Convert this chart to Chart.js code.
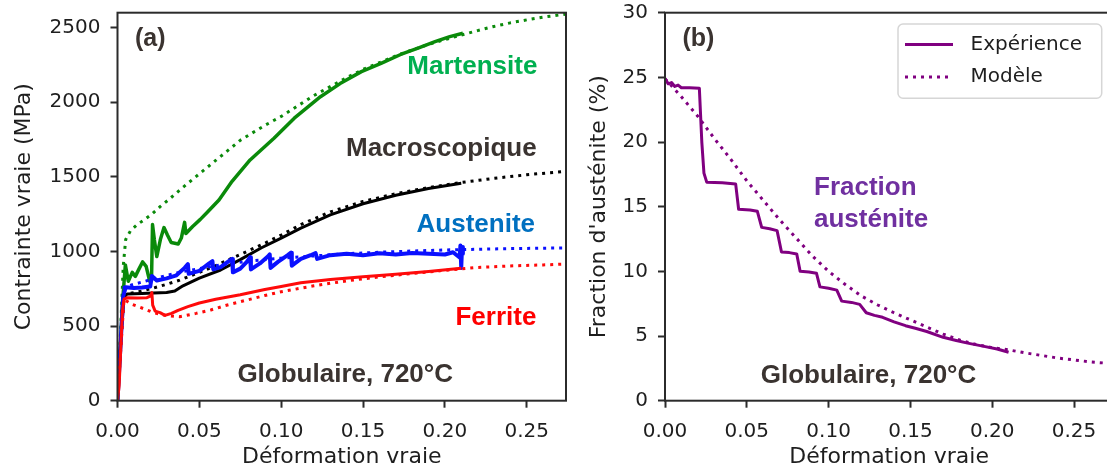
<!DOCTYPE html>
<html>
<head>
<meta charset="utf-8">
<script src="https://cdn.jsdelivr.net/npm/chart.js@4.4.1/dist/chart.umd.min.js"></script>
<style>
  html, body { margin: 0; padding: 0; background: #fff; overflow: hidden; }
  #wrap { position: relative; width: 1107px; height: 470px; overflow: hidden; background: #fff; }
  #left { position: absolute; left: 0; top: 0; }
  #right { position: absolute; left: 575px; top: 0; }
</style>
</head>
<body>
<div id="wrap">
  <canvas id="left" width="575" height="470"></canvas>
  <canvas id="right" width="545" height="470"></canvas>
</div>
<script>
// ---------- (a) true stress vs true strain per phase ----------
const martExpStrain = [0, 0.0015, 0.003, 0.0039, 0.0048, 0.0066, 0.009, 0.0109, 0.013, 0.0153, 0.0175, 0.0197, 0.0208, 0.0214, 0.0225, 0.024, 0.0262, 0.0284, 0.0305, 0.0328, 0.0371, 0.039, 0.041, 0.0418, 0.0459, 0.0506, 0.055, 0.062, 0.07, 0.081, 0.0956, 0.108, 0.124, 0.136, 0.149, 0.161, 0.173, 0.184, 0.194, 0.203, 0.211];
const martExpStress = [0, 300, 650, 780, 910, 800, 860, 833, 880, 930, 900, 800, 820, 1180, 1080, 966, 1080, 1160, 1110, 1060, 1050, 1090, 1195, 1120, 1167, 1215, 1265, 1345, 1470, 1613, 1759, 1893, 2037, 2125, 2205, 2260, 2320, 2365, 2406, 2440, 2462];
const martModStrain = [0, 0.002, 0.0035, 0.005, 0.008, 0.012, 0.016, 0.021, 0.026, 0.031, 0.04, 0.05, 0.06, 0.075, 0.09, 0.10, 0.11, 0.12, 0.13, 0.14, 0.15, 0.16, 0.17, 0.18, 0.19, 0.20, 0.21, 0.22, 0.23, 0.24, 0.25, 0.26, 0.275];
const martModStress = [0, 500, 900, 1080, 1140, 1180, 1210, 1250, 1300, 1345, 1430, 1520, 1610, 1745, 1845, 1905, 1975, 2045, 2105, 2165, 2220, 2265, 2310, 2350, 2388, 2420, 2450, 2480, 2508, 2532, 2552, 2570, 2592];

const macroExpStrain = [0, 0.002, 0.004, 0.006, 0.015, 0.022, 0.03, 0.035, 0.04, 0.05, 0.063, 0.075, 0.088, 0.10, 0.112, 0.13, 0.15, 0.17, 0.19, 0.21];
const macroExpStress = [0, 400, 700, 715, 718, 722, 725, 735, 770, 822, 876, 945, 1025, 1090, 1157, 1245, 1320, 1377, 1422, 1457];
const macroModStrain = [0, 0.002, 0.004, 0.008, 0.015, 0.022, 0.03, 0.038, 0.05, 0.06, 0.07, 0.08, 0.09, 0.10, 0.112, 0.13, 0.15, 0.17, 0.19, 0.21, 0.23, 0.25, 0.275];
const macroModStress = [0, 400, 700, 720, 735, 755, 780, 808, 860, 905, 955, 1005, 1055, 1110, 1180, 1265, 1335, 1387, 1428, 1462, 1490, 1514, 1538];

const austExpStrain = [0, 0.002, 0.0035, 0.005, 0.01, 0.015, 0.02, 0.021, 0.024, 0.03, 0.036, 0.041, 0.043, 0.0435, 0.05, 0.056, 0.058, 0.0585, 0.063, 0.068, 0.070, 0.0705, 0.075, 0.079, 0.081, 0.0815, 0.087, 0.092, 0.093, 0.0935, 0.098, 0.104, 0.106, 0.1065, 0.112, 0.118, 0.121, 0.122, 0.13, 0.14, 0.15, 0.16, 0.17, 0.18, 0.19, 0.20, 0.205, 0.209, 0.2095, 0.2100, 0.2105, 0.211];
const austExpStress = [0, 400, 700, 760, 755, 758, 765, 835, 805, 820, 840, 890, 915, 850, 870, 920, 935, 880, 895, 935, 950, 860, 885, 930, 962, 880, 920, 968, 980, 890, 930, 975, 992, 905, 950, 975, 990, 950, 975, 985, 975, 988, 980, 990, 985, 980, 995, 960, 1040, 890, 1030, 985];
const austModStrain = [0, 0.002, 0.004, 0.01, 0.02, 0.03, 0.04, 0.05, 0.06, 0.08, 0.10, 0.12, 0.14, 0.16, 0.18, 0.20, 0.22, 0.24, 0.26, 0.275];
const austModStress = [0, 400, 760, 780, 810, 840, 865, 885, 905, 935, 955, 970, 985, 995, 1003, 1010, 1015, 1019, 1022, 1024];

const ferrExpStrain = [0, 0.001, 0.002, 0.003, 0.004, 0.006, 0.012, 0.018, 0.020, 0.021, 0.0215, 0.023, 0.026, 0.029, 0.033, 0.037, 0.043, 0.05, 0.06, 0.075, 0.09, 0.10, 0.112, 0.13, 0.15, 0.17, 0.19, 0.21];
const ferrExpStress = [0, 100, 350, 600, 680, 690, 688, 690, 700, 725, 640, 600, 590, 572, 585, 605, 630, 655, 680, 710, 745, 765, 790, 812, 830, 848, 866, 888];
const ferrModStrain = [0, 0.002, 0.004, 0.008, 0.014, 0.022, 0.03, 0.038, 0.048, 0.057, 0.066, 0.075, 0.09, 0.10, 0.12, 0.14, 0.16, 0.18, 0.20, 0.22, 0.24, 0.26, 0.275];
const ferrModStress = [0, 350, 680, 650, 625, 590, 570, 563, 585, 608, 638, 663, 705, 730, 770, 803, 830, 852, 874, 893, 903, 910, 916];

// ---------- (b) austenite fraction vs true strain ----------
const fracExpStrain = [0, 0.002, 0.004, 0.006, 0.008, 0.010, 0.015, 0.021, 0.0225, 0.0238, 0.0255, 0.035, 0.0432, 0.045, 0.052, 0.0564, 0.0591, 0.064, 0.0685, 0.0712, 0.076, 0.0805, 0.0826, 0.088, 0.0926, 0.0947, 0.10, 0.105, 0.108, 0.114, 0.119, 0.123, 0.128, 0.133, 0.14, 0.147, 0.153, 0.16, 0.17, 0.178, 0.185, 0.195, 0.203, 0.21];
const fracExpValue = [24.9, 24.5, 24.6, 24.3, 24.4, 24.2, 24.2, 24.15, 20.0, 17.6, 16.9, 16.85, 16.75, 14.8, 14.75, 14.65, 13.4, 13.3, 13.15, 11.5, 11.45, 11.35, 10.0, 9.95, 9.85, 8.8, 8.7, 8.55, 7.7, 7.6, 7.45, 6.8, 6.6, 6.45, 6.1, 5.8, 5.6, 5.35, 4.9, 4.65, 4.45, 4.2, 4.0, 3.75];
const fracModStrain = [0, 0.01, 0.02, 0.03, 0.04, 0.05, 0.06, 0.07, 0.08, 0.09, 0.10, 0.11, 0.12, 0.13, 0.14, 0.15, 0.16, 0.17, 0.18, 0.19, 0.20, 0.21, 0.22, 0.23, 0.24, 0.25, 0.26, 0.275];
const fracModValue = [24.9, 23.5, 22.0, 20.3, 18.7, 17.0, 15.5, 14.0, 12.6, 11.2, 10.0, 9.0, 8.1, 7.4, 6.8, 6.25, 5.7, 5.15, 4.7, 4.35, 4.1, 3.93, 3.7, 3.5, 3.3, 3.15, 3.0, 2.85];

// ---------- axis ticks ----------
const strainTicks = [0, 0.05, 0.10, 0.15, 0.20, 0.25];
const stressTicks = [0, 500, 1000, 1500, 2000, 2500];
const fractionTicks = [0, 5, 10, 15, 20, 25, 30];

// ---------- styling ----------
const INK = '#1e1e1e';
const SPINE = '#2b2b2b';
const NOTE = '#3a3330';
const X_MAX = 0.274;
const TICK_FONT = { family: 'DejaVu Sans', size: 20 };
const TITLE_FONT = { family: 'DejaVu Sans', size: 22 };
const NOTE_FONT = 'bold 26px "Liberation Sans", Arial, sans-serif';

Chart.defaults.font.family = 'DejaVu Sans';
Chart.defaults.color = INK;

const pts = (xs, ys) => xs.map((x, i) => ({ x, y: ys[i] }));

function series(label, xs, ys, color, dotted, width) {
  return {
    label,
    data: pts(xs, ys),
    borderColor: color,
    backgroundColor: color,
    borderWidth: width || 3,
    borderDash: dotted ? [3, 5] : [],
    borderCapStyle: 'butt',
    borderJoinStyle: 'round',
    pointRadius: 0,
    fill: false,
    tension: 0
  };
}

// full frame around the plotting area
const framePlugin = {
  id: 'frame',
  afterDraw(chart) {
    const { ctx, chartArea: a } = chart;
    ctx.save();
    ctx.strokeStyle = SPINE;
    ctx.lineWidth = 2;
    ctx.strokeRect(a.left, a.top, a.right - a.left, a.bottom - a.top);
    ctx.restore();
  }
};

// free text placed relative to the plotting area
const notesPlugin = {
  id: 'notes',
  afterDraw(chart, args, opts) {
    const { ctx, chartArea: a } = chart;
    ctx.save();
    ctx.textBaseline = 'alphabetic';
    for (const n of opts.items || []) {
      ctx.font = n.font || NOTE_FONT;
      ctx.fillStyle = n.color;
      ctx.textAlign = n.align || 'left';
      ctx.fillText(n.text, a.left + n.dx, a.top + n.dy);
    }
    ctx.restore();
  }
};

// boxed legend in the upper right corner
const legendBoxPlugin = {
  id: 'legendBox',
  afterDraw(chart, args, opts) {
    if (!opts.show) return;
    const { ctx, chartArea: a } = chart;
    const x = a.right - opts.right - opts.width;
    const y = a.top + opts.top;
    ctx.save();
    ctx.beginPath();
    ctx.roundRect(x, y, opts.width, opts.height, 5);
    ctx.fillStyle = 'rgba(255,255,255,0.85)';
    ctx.fill();
    ctx.strokeStyle = '#d6d6d6';
    ctx.lineWidth = 1.5;
    ctx.stroke();
    chart.data.datasets.forEach((ds, i) => {
      const cy = y + opts.firstRow + i * opts.rowGap;
      ctx.strokeStyle = ds.borderColor;
      ctx.lineWidth = ds.borderWidth;
      ctx.lineCap = 'butt';
      ctx.setLineDash(ds.borderDash || []);
      ctx.beginPath();
      ctx.moveTo(x + 7, cy);
      ctx.lineTo(x + 55, cy);
      ctx.stroke();
      ctx.setLineDash([]);
      ctx.fillStyle = INK;
      ctx.font = '20px "DejaVu Sans"';
      ctx.textAlign = 'left';
      ctx.textBaseline = 'middle';
      ctx.fillText(ds.label, x + 72.5, cy);
    });
    ctx.restore();
  }
};

function noPad(s) {
  s.paddingTop = 0; s.paddingBottom = 0; s.paddingLeft = 0; s.paddingRight = 0;
}

function scales(yMax, yTicks, yTitle, yWidth) {
  return {
    x: {
      type: 'linear',
      min: 0,
      max: X_MAX,
      afterBuildTicks: s => { s.ticks = strainTicks.map(v => ({ value: v })); },
      ticks: { font: TICK_FONT, color: INK, padding: 12.5, maxRotation: 0, autoSkip: false,
               callback: v => Number(v).toFixed(2) },
      grid: { drawOnChartArea: false, drawTicks: true, tickLength: 7, tickWidth: 2, tickColor: SPINE },
      border: { display: false },
      title: { display: true, text: 'Déformation vraie', font: TITLE_FONT, color: INK, padding: { top: 0, bottom: 0 } },
      afterFit: s => { s.height = 69.3; noPad(s); }
    },
    y: {
      type: 'linear',
      min: 0,
      max: yMax,
      afterBuildTicks: s => { s.ticks = yTicks.map(v => ({ value: v })); },
      ticks: { font: TICK_FONT, color: INK, padding: 10, autoSkip: false, callback: v => String(v) },
      grid: { drawOnChartArea: false, drawTicks: true, tickLength: 7, tickWidth: 2, tickColor: SPINE },
      border: { display: false },
      title: { display: true, text: yTitle, font: TITLE_FONT, color: INK, padding: { top: 10.8, bottom: 0 } },
      afterFit: s => { s.width = yWidth; noPad(s); }
    }
  };
}

function baseOptions(padRight, sc, notes, legend) {
  return {
    responsive: false,
    animation: false,
    devicePixelRatio: 1,
    layout: { padding: { top: 12.7, right: padRight, bottom: 0, left: 0 } },
    scales: sc,
    plugins: {
      legend: { display: false },
      tooltip: { enabled: false },
      notes: { items: notes },
      legendBox: legend || { show: false }
    }
  };
}

// panel (a)
const leftSets = [
  series('Martensite exp', martExpStrain, martExpStress, '#0a8a0a', false, 3.5),
  series('Martensite mod', martModStrain, martModStress, '#0a8a0a', true, 3),
  series('Macroscopique exp', macroExpStrain, macroExpStress, '#000000', false, 3),
  series('Macroscopique mod', macroModStrain, macroModStress, '#000000', true, 3),
  series('Austenite exp', austExpStrain, austExpStress, '#0a10ff', false, 4),
  series('Austenite mod', austModStrain, austModStress, '#0a10ff', true, 3),
  series('Ferrite exp', ferrExpStrain, ferrExpStress, '#ff0a0a', false, 3),
  series('Ferrite mod', ferrModStrain, ferrModStress, '#ff0a0a', true, 3)
];
leftSets.forEach((d, i) => { d.order = leftSets.length - i; });

new Chart(document.getElementById('left'), {
  type: 'line',
  data: { datasets: leftSets },
  options: baseOptions(9, scales(2600, stressTicks, 'Contrainte vraie (MPa)', 117.5), [
    { text: '(a)', color: NOTE, dx: 17.5, dy: 33.3, font: 'bold 25px "Liberation Sans", Arial, sans-serif' },
    { text: 'Martensite', color: '#00b050', dx: 419.9, dy: 61.3, align: 'right' },
    { text: 'Macroscopique', color: NOTE, dx: 419.2, dy: 143.3, align: 'right' },
    { text: 'Austenite', color: '#0070c0', dx: 417.5, dy: 219, align: 'right' },
    { text: 'Ferrite', color: '#ff0000', dx: 418.9, dy: 312.1, align: 'right' },
    { text: 'Globulaire, 720°C', color: NOTE, dx: 119.9, dy: 369.7 }
  ]),
  plugins: [framePlugin, notesPlugin, legendBoxPlugin]
});

// panel (b)
const rightSets = [
  series('Expérience', fracExpStrain, fracExpValue, '#800080', false, 3),
  series('Modèle', fracModStrain, fracModValue, '#800080', true, 3)
];
rightSets.forEach((d, i) => { d.order = rightSets.length - i; });

new Chart(document.getElementById('right'), {
  type: 'line',
  data: { datasets: rightSets },
  options: baseOptions(6.7, scales(30, fractionTicks, "Fraction d'austénite (%)", 90), [
    { text: '(b)', color: NOTE, dx: 17.4, dy: 33.3, font: 'bold 25px "Liberation Sans", Arial, sans-serif' },
    { text: 'Fraction', color: '#7030a0', dx: 149, dy: 182.2 },
    { text: 'austénite', color: '#7030a0', dx: 149, dy: 213.8 },
    { text: 'Globulaire, 720°C', color: NOTE, dx: 95.7, dy: 370.3 }
  ], { show: true, right: 11.6, top: 11.3, width: 203.7, height: 74.3, firstRow: 20.5, rowGap: 32.5 }),
  plugins: [framePlugin, notesPlugin, legendBoxPlugin]
});
</script>
</body>
</html>
